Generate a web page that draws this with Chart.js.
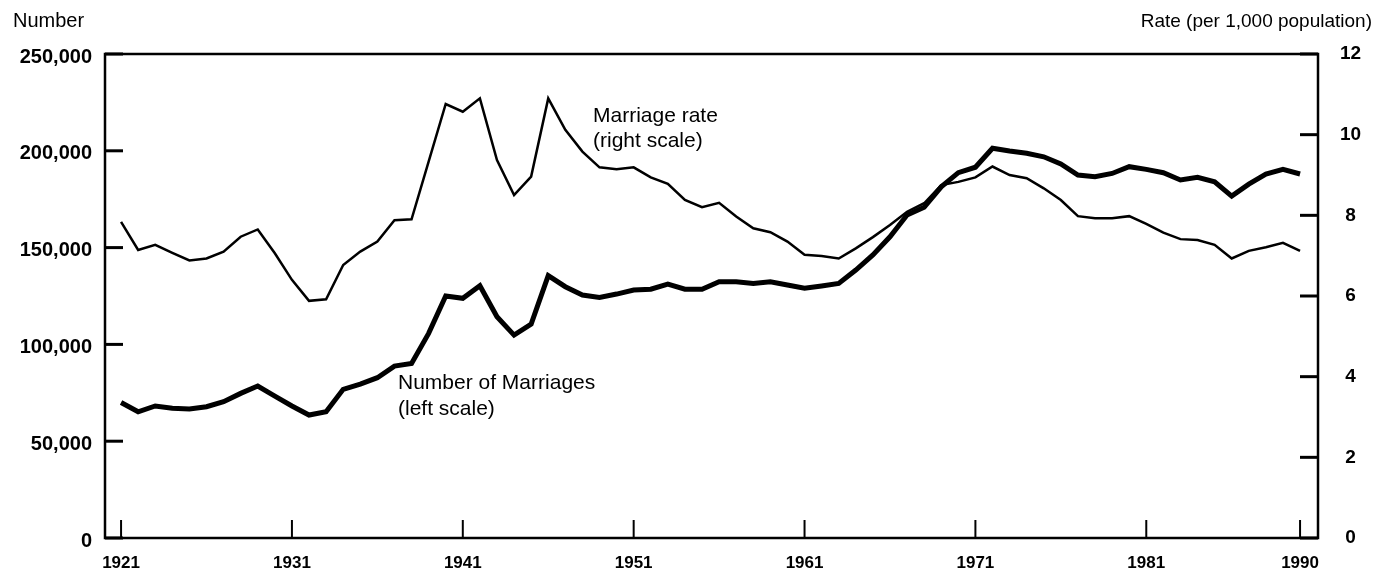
<!DOCTYPE html>
<html>
<head>
<meta charset="utf-8">
<script src="https://cdn.jsdelivr.net/npm/chart.js@4/dist/chart.umd.min.js"></script>
<style>
  html, body { margin: 0; padding: 0; background: #fff; }
  #wrap { width: 1376px; height: 580px; position: relative; }
</style>
</head>
<body>
<div id="wrap"><canvas id="marriages"></canvas></div>
<script>
// Number of marriages (left scale) and marriage rate per 1,000 (right scale), 1921-1990
const years = [];
for (let y = 1921; y <= 1990; y++) years.push(y);

const marriages = [
    70000, 65200, 68200, 67000, 66600, 67800, 70400, 74700, 78500, 73300,   // 1921-30
    68200, 63500, 65200, 76800, 79500, 82800, 88800, 90200, 105700, 125000, // 1931-40
    123800, 130300, 114300, 104800, 110500, 135500, 129800, 125500, 124300, 126000, // 1941-50
    128100, 128500, 131200, 128500, 128500, 132400, 132400, 131500, 132400, 130700, // 1951-60
    129000, 130200, 131500, 138400, 146200, 155600, 166800, 170800, 181400, 188700, // 1961-70
    191500, 201300, 199900, 198700, 196900, 193200, 187500, 186600, 188300, 191800, // 1971-80
    190400, 188700, 184900, 186300, 184000, 176600, 182800, 188000, 190400, 188000  // 1981-90
];

const rates = [
    7.84, 7.14, 7.27, 7.07, 6.88, 6.93, 7.10, 7.47, 7.65, 7.06,
    6.40, 5.88, 5.92, 6.77, 7.10, 7.35, 7.88, 7.90, 9.33, 10.76,
    10.57, 10.90, 9.37, 8.50, 8.96, 10.90, 10.12, 9.58, 9.19, 9.14,
    9.19, 8.94, 8.78, 8.38, 8.20, 8.31, 7.97, 7.68, 7.58, 7.35,
    7.02, 6.99, 6.93, 7.18, 7.46, 7.76, 8.09, 8.30, 8.75, 8.83,
    8.94, 9.21, 9.00, 8.92, 8.67, 8.38, 7.98, 7.93, 7.93, 7.98,
    7.79, 7.57, 7.41, 7.39, 7.27, 6.93, 7.12, 7.21, 7.32, 7.12
];

const xTickYears = [1921, 1931, 1941, 1951, 1961, 1971, 1981, 1990];
const leftTicks = [0, 50000, 100000, 150000, 200000, 250000];
const rightTicks = [0, 2, 4, 6, 8, 10, 12];

const FONT = '"Liberation Sans", Arial, Helvetica, sans-serif';

// frame, inner tick marks and text labels
const framePlugin = {
    id: 'frame',
    afterDraw(chart) {
        const c = chart.ctx;
        const a = chart.chartArea;
        const sx = chart.scales.x, yl = chart.scales.yLeft, yr = chart.scales.yRight;
        c.save();
        c.strokeStyle = '#000';
        c.lineWidth = 2.5;
        c.strokeRect(a.left, a.top, a.right - a.left, a.bottom - a.top);

        c.lineWidth = 3;
        leftTicks.forEach(v => {
            const p = yl.getPixelForValue(v);
            c.beginPath(); c.moveTo(a.left, p); c.lineTo(a.left + 18, p); c.stroke();
        });
        rightTicks.forEach(v => {
            const p = yr.getPixelForValue(v);
            c.beginPath(); c.moveTo(a.right - 18, p); c.lineTo(a.right, p); c.stroke();
        });
        c.lineWidth = 2;
        xTickYears.forEach(v => {
            const p = sx.getPixelForValue(v);
            c.beginPath(); c.moveTo(p, a.bottom); c.lineTo(p, a.bottom - 18); c.stroke();
        });

        c.fillStyle = '#000';
        c.textBaseline = 'alphabetic';
        c.font = '20px ' + FONT;
        c.textAlign = 'left';
        c.fillText('Number', 13, 27);
        c.font = '19px ' + FONT;
        c.textAlign = 'right';
        c.fillText('Rate (per 1,000 population)', 1372, 27);

        c.textAlign = 'left';
        c.font = '21px ' + FONT;
        c.fillText('Marriage rate', 593, 122);
        c.fillText('(right scale)', 593, 147);
        c.fillText('Number of Marriages', 398, 389);
        c.fillText('(left scale)', 398, 415);
        c.restore();
    }
};

const ctx = document.getElementById('marriages').getContext('2d');
const chart = new Chart(ctx, {
    type: 'line',
    data: {
        datasets: [{
            label: 'Number of Marriages',
            data: years.map((y, i) => ({ x: y, y: marriages[i] })),
            yAxisID: 'yLeft',
            borderColor: '#000',
            borderWidth: 5,
            pointRadius: 0,
            tension: 0,
            fill: false
        }, {
            label: 'Marriage rate',
            data: years.map((y, i) => ({ x: y, y: rates[i] })),
            yAxisID: 'yRight',
            borderColor: '#000',
            borderWidth: 2.5,
            pointRadius: 0,
            tension: 0,
            fill: false
        }]
    },
    plugins: [framePlugin],
    options: {
        responsive: true,
        maintainAspectRatio: false,
        animation: false,
        layout: { padding: { top: 54, left: 0, right: 0, bottom: 0 } },
        scales: {
            x: {
                type: 'linear',
                min: 1920.06,
                max: 1991.05,
                afterBuildTicks: (s) => { s.ticks = xTickYears.map(v => ({ value: v })); },
                afterFit: (s) => { s.height = 42; },
                grid: { display: false, drawTicks: false },
                border: { display: false },
                ticks: {
                    color: '#000',
                    padding: 15,
                    maxRotation: 0,
                    autoSkip: false,
                    font: { family: FONT, size: 17, weight: 'bold' },
                    callback: (v) => String(v)
                }
            },
            yLeft: {
                position: 'left',
                min: 0,
                max: 250000,
                afterBuildTicks: (s) => { s.ticks = leftTicks.map(v => ({ value: v })); },
                afterFit: (s) => { s.width = 105; },
                grid: { display: false, drawTicks: false },
                border: { display: false },
                ticks: {
                    color: '#000',
                    padding: 13,
                    labelOffset: 3,
                    font: { family: FONT, size: 20, weight: 'bold' },
                    callback: (v) => v.toLocaleString('en-US')
                }
            },
            yRight: {
                position: 'right',
                min: 0,
                max: 12,
                afterBuildTicks: (s) => { s.ticks = rightTicks.map(v => ({ value: v })); },
                afterFit: (s) => { s.width = 58; },
                grid: { display: false, drawTicks: false },
                border: { display: false },
                ticks: {
                    color: '#000',
                    padding: 22,
                    crossAlign: 'center',
                    font: { family: FONT, size: 19, weight: 'bold' },
                    callback: (v) => String(v)
                }
            }
        },
        plugins: {
            legend: { display: false },
            tooltip: { enabled: false }
        }
    }
});
</script>
</body>
</html>
